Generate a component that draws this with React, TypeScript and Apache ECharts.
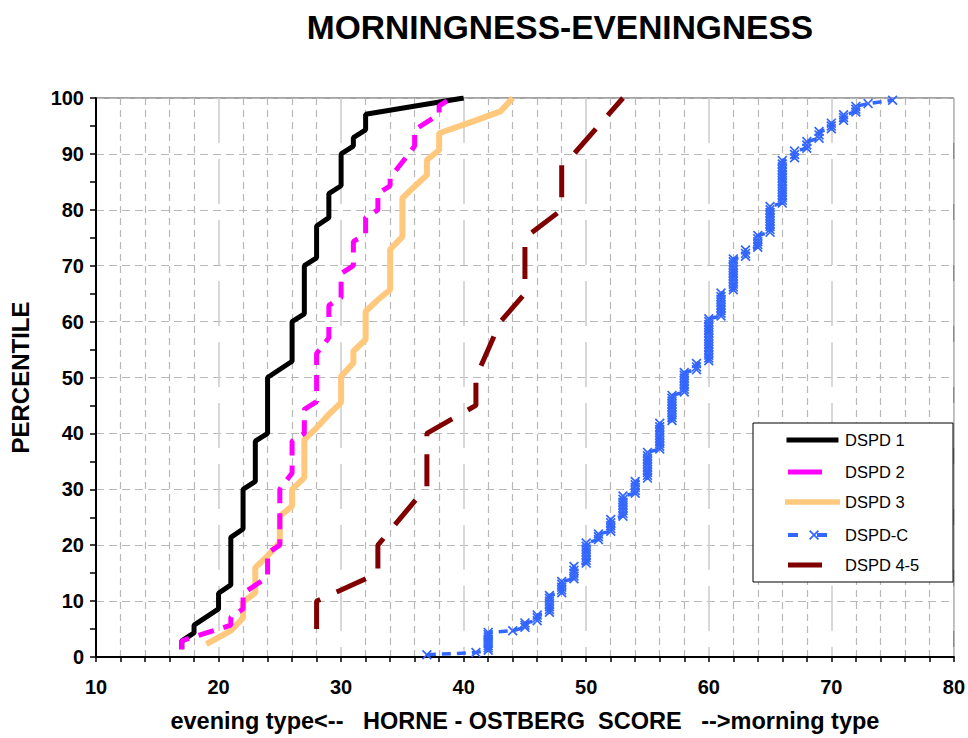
import React, { useEffect, useRef } from "react";
import * as echarts from "echarts";

const seriesNames = ["DSPD 1", "DSPD 2", "DSPD 3", "DSPD-C", "DSPD 4-5"];

const titleText = "MORNINGNESS-EVENINGNESS";
const xAxisTitle = "evening type<--   HORNE - OSTBERG  SCORE   -->morning type";
const yAxisTitle = "PERCENTILE";

// [Horne-Ostberg score, percentile]
const dspd1: number[][] = [
  [17, 1.4], [17, 2.9], [18, 4.3], [18, 5.7], [20, 8.6], [20, 11.4], [21, 12.9], [21, 21.4],
  [22, 22.9], [22, 30], [23, 31.4], [23, 38.6], [24, 40], [24, 50], [26, 52.9], [26, 60],
  [27, 61.4], [27, 70], [28, 71.4], [28, 77.1], [29, 78.6], [29, 82.9], [30, 84.3], [30, 90],
  [31, 91.4], [31, 92.9], [32, 94.3], [32, 97.1], [40, 100],
];

const dspd2: number[][] = [
  [17, 1.4], [17, 2.9], [19, 4.3], [21, 5.7], [21, 7.1], [22, 8.6], [22, 11.4], [24, 14.3],
  [24, 18.6], [25, 20], [25, 30], [26, 32.9], [26, 38.6], [27, 40], [27, 44.3], [28, 45.7],
  [28, 54.3], [29, 57.1], [29, 62.9], [30, 64.3], [30, 68.6], [31, 70], [31, 74.3], [32, 75.7],
  [32, 78.6], [33, 80], [33, 82.9], [34, 84.3], [34, 85.7], [36, 91.4], [36, 94.3], [38, 97.1],
  [38, 98.6], [39, 100],
];

const dspd3: number[][] = [
  [19, 2.3], [21, 4.7], [22, 7], [22, 9.8], [23, 11.5], [23, 16], [24, 18.1], [25, 20.5],
  [25, 25.2], [26, 27], [26, 30], [27, 32.1], [27, 38.9], [28, 41], [29, 43.4], [30, 45.5],
  [30, 50.2], [31, 52.6], [31, 54.7], [32, 56.8], [32, 61.8], [33, 63.9], [34, 65.7], [34, 72.9],
  [35, 75.2], [35, 82.1], [36, 84.2], [37, 86.2], [37, 88.9], [38, 90.7], [38, 93.7], [41, 96],
  [43, 97.6], [44, 100],
];

// DSPD-C: each score with the percentiles of its individual points
const dspdCByScore: [number, number[]][] = [
  [37, [0.4]],
  [41, [0.8]],
  [42, [1.2, 1.6, 2.0, 2.4, 2.8, 3.2, 3.6, 4.0, 4.4]],
  [44, [4.7]],
  [45, [5.3, 5.7, 6.1]],
  [46, [6.5, 7.0, 7.5]],
  [47, [8.0, 8.5, 9.0, 9.5, 10.0, 10.5, 11.0]],
  [48, [11.5, 12.0, 12.5, 13.0, 13.5]],
  [49, [14.0, 14.5, 15.0, 15.5, 16.2]],
  [50, [16.8, 17.3, 17.8, 18.3, 18.8, 19.3, 19.8, 20.4]],
  [51, [21.0, 21.5, 22.0]],
  [52, [22.5, 23.0, 23.5, 24.0, 24.6]],
  [53, [25.2, 25.7, 26.2, 26.7, 27.2, 27.7, 28.2, 28.8]],
  [54, [29.3, 29.8, 30.3, 30.8, 31.4]],
  [55, [32.0, 32.5, 33.0, 33.5, 34.0, 34.5, 35.0, 35.5, 36.0, 36.6]],
  [56, [37.2, 37.7, 38.2, 38.7, 39.2, 39.7, 40.2, 40.7, 41.2, 41.8]],
  [57, [42.3, 42.8, 43.3, 43.8, 44.3, 44.8, 45.3, 45.8, 46.3, 46.8]],
  [58, [47.4, 47.9, 48.4, 48.9, 49.4, 49.9, 50.4, 50.9]],
  [59, [51.4, 51.9, 52.5]],
  [60, [53.0, 53.5, 54.0, 54.5, 55.0, 55.5, 56.0, 56.5, 57.0, 57.5, 58.0, 58.5, 59.0, 59.5, 60.0, 60.5]],
  [61, [61.0, 61.5, 62.0, 62.5, 63.0, 63.5, 64.0, 64.5, 65.1]],
  [62, [65.7, 66.2, 66.7, 67.2, 67.7, 68.2, 68.7, 69.2, 69.7, 70.2, 70.7, 71.2]],
  [63, [71.7, 72.2, 72.8]],
  [64, [73.3, 73.8, 74.3, 74.8, 75.4]],
  [65, [76.0, 76.5, 77.0, 77.5, 78.0, 78.5, 79.0, 79.5, 80.0, 80.6]],
  [66, [81.2, 81.7, 82.2, 82.7, 83.2, 83.7, 84.2, 84.7, 85.2, 85.7, 86.2, 86.7, 87.2, 87.7, 88.2, 88.8]],
  [67, [89.3, 89.9, 90.5]],
  [68, [91.0, 91.6, 92.2]],
  [69, [92.8, 93.4, 94.0]],
  [70, [94.5, 95.0, 95.5]],
  [71, [96.0, 96.5, 97.0]],
  [72, [97.5, 98.0, 98.5]],
  [73, [99.0]],
  [75, [99.6]],
];

const dspd45: number[][] = [
  [28, 5], [28, 10], [33, 15], [33, 20], [37, 30.5], [37, 40], [41, 45], [41, 50],
  [43, 60], [45, 65], [45, 75], [48, 80], [48, 88], [49, 90], [53, 100],
];

const dspdC: number[][] = [];
dspdCByScore.forEach(([score, ps]) => ps.forEach((p) => dspdC.push([score, p])));

const FONT = '"Liberation Sans", Arial, Helvetica, sans-serif';
const X_SYMBOL =
  "path://M0,1.2L1.2,0L5,3.8L8.8,0L10,1.2L6.2,5L10,8.8L8.8,10L5,6.2L1.2,10L0,8.8L3.8,5Z";

// legend sample icons (55 x 14 boxes, corner points keep the box size)
const ICON_LONG = "path://M0,0L0,0M1.5,4.5H53.5V9.5H1.5ZM55,14L55,14";
const ICON_WIDE = "path://M0,0L0,0M0,4.3H55V9.7H0ZM55,14L55,14";
const ICON_SHORT_DASH = "path://M0,0L0,0M3,4.5H37V9.5H3ZM55,14L55,14";
const ICON_DASH_X =
  "path://M0,0L0,0M3,5H13V9H3ZM32,5H42V9H32Z" +
  "M24,3.2L25.2,2L29,5.8L32.8,2L34,3.2L30.2,7L34,10.8L32.8,12L29,8.2L25.2,12L24,10.8L27.8,7Z" +
  "M55,14L55,14";
const legendRowTops = [431.5, 463.5, 493.5, 526.5, 556.5];
const legendIcons = [ICON_LONG, ICON_SHORT_DASH, ICON_WIDE, ICON_DASH_X, ICON_SHORT_DASH];

export default function App() {
  const ref = useRef<HTMLDivElement>(null);

  useEffect(() => {
    if (!ref.current) return;
    const chart = echarts.init(ref.current, undefined, { renderer: "svg" });
    const legends = seriesNames.map((name, i) => ({
      orient: "vertical",
      left: 785,
      top: legendRowTops[i],
      padding: 0,
      itemWidth: 55,
      itemHeight: 14,
      z: 6,
      textStyle: { fontSize: 16.5, color: "#000", fontFamily: FONT },
      data: [{ name, icon: legendIcons[i] }],
    }));
    const option: any = {
      animation: false,
      backgroundColor: "#ffffff",
      textStyle: { fontFamily: FONT },
      grid: {
        left: 96,
        top: 98,
        width: 862,
        height: 560,
        show: true,
        borderColor: "#444444",
        borderWidth: 1,
        backgroundColor: "transparent",
      },
      xAxis: {
        type: "value",
        min: 10,
        max: 80,
        interval: 10,
        name: xAxisTitle,
        nameLocation: "middle",
        nameGap: 52,
        nameTextStyle: { fontSize: 23.5, fontWeight: "bold", color: "#000", fontFamily: FONT },
        axisLine: { show: true, lineStyle: { color: "#000", width: 2 } },
        axisTick: { show: true, length: 5, lineStyle: { color: "#000", width: 1.5 } },
        minorTick: { show: true, splitNumber: 5, length: 5, lineStyle: { color: "#000", width: 1.5 } },
        axisLabel: { fontSize: 20, fontWeight: "bold", color: "#000", margin: 20, fontFamily: FONT },
        splitLine: { show: true, lineStyle: { color: "#cccccc", width: 1.5, type: [45, 16] } },
        minorSplitLine: { show: true, lineStyle: { color: "#b8b8b8", width: 1.2, type: [7, 5] } },
      },
      yAxis: {
        type: "value",
        min: 0,
        max: 100,
        interval: 10,
        name: yAxisTitle,
        nameLocation: "middle",
        nameGap: 64,
        nameRotate: 90,
        nameTextStyle: { fontSize: 24, fontWeight: "bold", color: "#000", fontFamily: FONT },
        axisLine: { show: true, lineStyle: { color: "#000", width: 2 } },
        axisTick: { show: true, length: 6, lineStyle: { color: "#000", width: 1.5 } },
        minorTick: { show: true, splitNumber: 2, length: 6, lineStyle: { color: "#000", width: 1.5 } },
        axisLabel: { fontSize: 20, fontWeight: "bold", color: "#000", margin: 12, fontFamily: FONT },
        splitLine: { show: true, lineStyle: { color: "#b8b8b8", width: 1.2, type: [8, 5] } },
      },
      legend: legends,
      graphic: {
        elements: [
          {
            type: "rect",
            z: 5,
            shape: { x: 753, y: 423, width: 200, height: 159 },
            style: { fill: "#ffffff", stroke: "#000000", lineWidth: 1 },
          },
          {
            type: "text",
            z: 5,
            x: 560,
            y: 27,
            style: {
              text: titleText,
              textAlign: "center",
              textVerticalAlign: "middle",
              font: `bold 33.5px ${FONT}`,
              fill: "#000",
            },
          },
        ],
      },
      series: [
        {
          name: seriesNames[0],
          type: "line",
          data: dspd1,
          symbol: "none",
          color: "#000000",
          lineStyle: { color: "#000000", width: 5, type: "solid" },
          z: 3,
        },
        {
          name: seriesNames[1],
          type: "line",
          data: dspd2,
          symbol: "none",
          color: "#ff00ff",
          lineStyle: { color: "#ff00ff", width: 5, type: [16, 10] },
          z: 3,
        },
        {
          name: seriesNames[2],
          type: "line",
          data: dspd3,
          symbol: "none",
          color: "#ffc87c",
          lineStyle: { color: "#ffc87c", width: 6, type: "solid" },
          z: 2,
        },
        {
          name: seriesNames[3],
          type: "line",
          data: dspdC,
          symbol: X_SYMBOL,
          symbolSize: 10,
          showSymbol: true,
          showAllSymbol: true,
          color: "#3366ff",
          itemStyle: { color: "#3366ff" },
          lineStyle: { color: "#3366ff", width: 3.5, type: [9, 6] },
          z: 3,
        },
        {
          name: seriesNames[4],
          type: "line",
          data: dspd45,
          symbol: "none",
          color: "#800000",
          lineStyle: { color: "#800000", width: 5, type: [32, 18] },
          z: 3,
        },
      ],
    };
    chart.setOption(option);
    return () => chart.dispose();
  }, []);

  return (
    <div
      ref={ref}
      style={{ position: "absolute", left: 0, top: 0, width: 968, height: 738, background: "#fff" }}
    />
  );
}
